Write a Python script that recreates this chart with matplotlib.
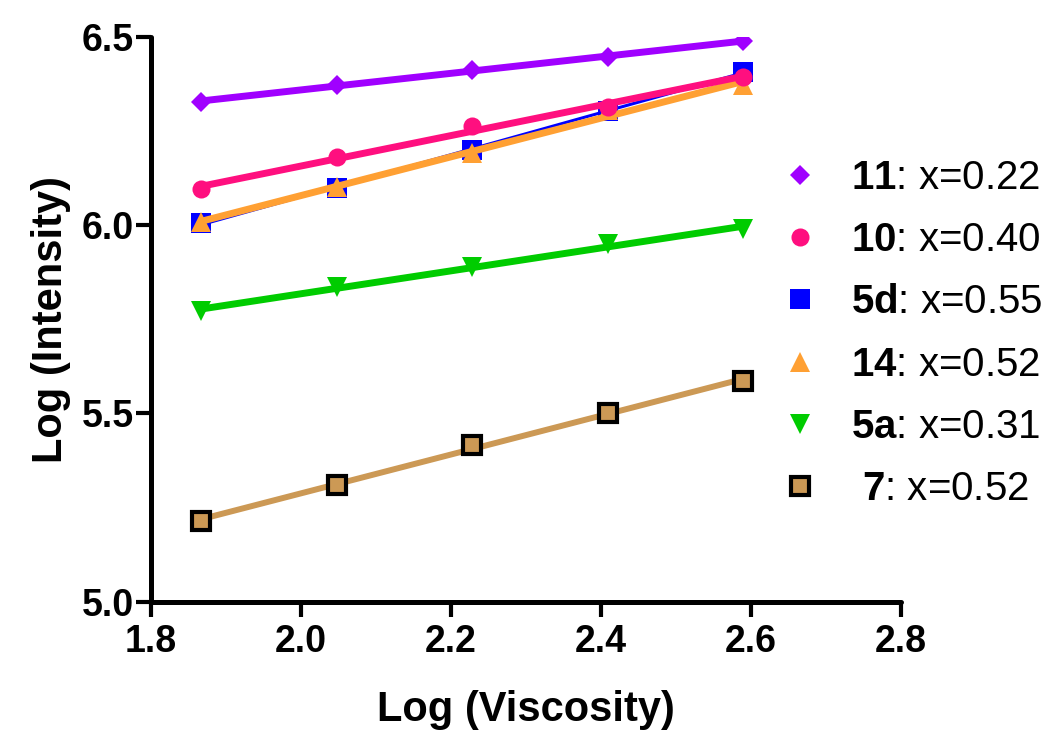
import numpy as np
import matplotlib
matplotlib.use("Agg")
import matplotlib.pyplot as plt

FONT = "Liberation Sans"
plt.rcParams['font.family'] = [FONT, 'DejaVu Sans']
plt.rcParams['mathtext.fontset'] = 'custom'
plt.rcParams['mathtext.rm'] = FONT
plt.rcParams['mathtext.bf'] = FONT + ':bold'

# Data
log_visc = [1.867, 2.048, 2.229, 2.410, 2.590]
y_11 = [6.327, 6.372, 6.411, 6.446, 6.489]
y_10 = [6.095, 6.180, 6.263, 6.313, 6.394]
y_5d = [6.006, 6.097, 6.199, 6.304, 6.407]
y_14 = [6.009, 6.102, 6.190, 6.305, 6.372]
y_5a = [5.772, 5.835, 5.889, 5.949, 5.990]
y_7 = [5.215, 5.310, 5.416, 5.500, 5.586]
labels = [r"$\mathbf{11}$: x=0.22", r"$\mathbf{10}$: x=0.40", r"$\mathbf{5d}$: x=0.55",
          r"$\mathbf{14}$: x=0.52", r"$\mathbf{5a}$: x=0.31", r" $\mathbf{7}$: x=0.52"]
x_ticks = [1.8, 2.0, 2.2, 2.4, 2.6, 2.8]
y_ticks = [5.0, 5.5, 6.0, 6.5]

series = [
    # y, label, color, marker, ms, lw, edgecolor, zorder
    (y_5d, labels[2], '#0000FF', 's', 15, 2.2, '#0000FF', 3),
    (y_14, labels[3], '#FFA033', '^', 14, 5, '#FFA033', 4),
    (y_10, labels[1], '#FF0F7F', 'o', 13, 5, '#FF0F7F', 5),
    (y_11, labels[0], '#A000FF', 'D', 10.5, 5, '#A000FF', 6),
    (y_5a, labels[4], '#00CC00', 'v', 15, 5, '#00CC00', 6),
    (y_7, labels[5], '#CC9955', 's', 13, 4.3, '#000000', 6),
]
order = labels

fig = plt.figure(figsize=(10.5, 7.49), dpi=100)
ax = fig.add_axes([150.7/1050, 1-601.7/749, 750/1050, 565/749])

x = np.array(log_visc)
handles = {}
for y, lab, col, mk, ms, lw, ec, z in series:
    y = np.array(y)
    p = np.polyfit(x, y, 1)
    xf = np.array([x[0], x[-1]])
    ax.plot(xf, np.polyval(p, xf), color=col, lw=lw, zorder=z, solid_capstyle='butt')
    h, = ax.plot(x, y, ls='none', marker=mk, ms=ms, mfc=col, mec=ec,
                 mew=3 if ec == '#000000' else 0, zorder=z + 0.5, label=lab)
    handles[lab] = h

ax.set_xlim(1.8, 2.8)
ax.set_ylim(5.0, 6.5)
ax.set_xticks(x_ticks)
ax.set_yticks(y_ticks)
ax.set_xticklabels([f"{t:.1f}" for t in x_ticks])
ax.set_yticklabels([f"{t:.1f}" for t in y_ticks])
for s in ['top', 'right']:
    ax.spines[s].set_visible(False)
for s in ['left', 'bottom']:
    ax.spines[s].set_linewidth(3.6)
    ax.spines[s].set_capstyle('round')
ax.tick_params(width=3, length=11, labelsize=27)
ax.tick_params(axis='x', pad=5)
ax.tick_params(axis='y', pad=1)
for t in ax.get_xticklabels() + ax.get_yticklabels():
    t.set_fontweight('bold')
ax.set_xlabel("Log (Viscosity)", fontsize=30, fontweight='bold', labelpad=22)
ax.set_ylabel("Log (Intensity)", fontsize=30, fontweight='bold', labelpad=8)

leg = fig.legend([handles[l] for l in order], order, loc='upper left',
                 bbox_to_anchor=(762/1050, 1-143/749), frameon=False,
                 fontsize=29, labelspacing=0.6, handletextpad=0.7,
                 handlelength=1.1, markerscale=1.0, borderaxespad=0)

fig.savefig("out.png", dpi=100)
